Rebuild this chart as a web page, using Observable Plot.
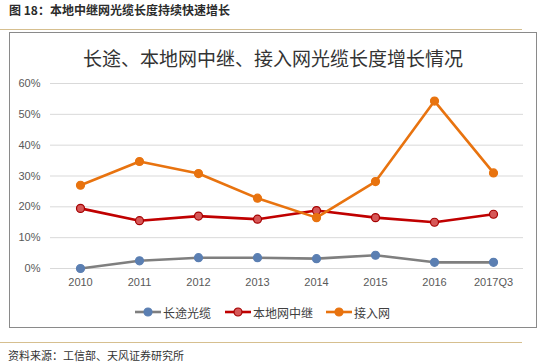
<!DOCTYPE html>
<html><head><meta charset="utf-8">
<script src="https://cdn.jsdelivr.net/npm/d3@7"></script>
<script src="https://cdn.jsdelivr.net/npm/@observablehq/plot@0.6"></script>
<style>
body{margin:0;width:550px;height:364px;position:relative;background:#fff;overflow:hidden;font-family:"Noto Sans CJK SC","Noto Sans",sans-serif;}
#hdr{position:absolute;left:9px;top:1px;font-size:12px;font-weight:bold;color:#2b2b2b;}
.tan{position:absolute;left:0;width:522px;height:1px;background:#d6bf8f;}
#box{position:absolute;left:9px;top:32px;width:528px;height:296px;border:1px solid #8a8a8a;box-sizing:border-box;}
#title{position:absolute;left:9px;width:528px;top:44px;text-align:center;font-size:19px;color:#333;}
#chart{position:absolute;left:0;top:70px;}
#legend{position:absolute;top:303px;left:0;width:550px;height:18px;font-size:12px;color:#404040;}
.li{position:absolute;top:0;display:flex;align-items:center;height:18px;}
#src{position:absolute;left:8px;top:347px;font-size:11px;color:#333;}
</style></head>
<body>
<div id="hdr">图 18：本地中继网光缆长度持续快速增长</div>
<div class="tan" style="top:29px"></div>
<div id="box"></div>
<div id="title">长途、本地网中继、接入网光缆长度增长情况</div>
<div id="chart"></div>
<div id="legend"></div>
<div class="tan" style="top:342px"></div>
<div id="src">资料来源：工信部、天风证券研究所</div>
<script>
const years = ["2010","2011","2012","2013","2014","2015","2016","2017Q3"];
const longHaul = [0.000, 0.025, 0.035, 0.035, 0.032, 0.043, 0.020, 0.020];
const localRelay = [0.195, 0.155, 0.170, 0.160, 0.188, 0.165, 0.150, 0.176];
const access = [0.270, 0.347, 0.308, 0.228, 0.165, 0.282, 0.543, 0.310];
const seriesNames = ["长途光缆","本地网中继","接入网"];
const yTicks = [0,0.1,0.2,0.3,0.4,0.5,0.6];

const lineColors = ["#7f7f7f","#c00000","#e8730f"];
const dotFill = ["#5b7fb2","#d65858","#e8730f"];
const dotStroke = ["#5b7fb2","#a50000","#e8730f"];

const rows = [];
[longHaul, localRelay, access].forEach((arr, si) => {
  arr.forEach((v, i) => rows.push({series: seriesNames[si], si, year: years[i], value: v}));
});

const marks = [
  Plot.gridY(yTicks, {stroke: "#d9d9d9", strokeOpacity: 1, strokeWidth: 1})
];
seriesNames.forEach((s, si) => {
  const d = rows.filter(r => r.si === si);
  marks.push(Plot.line(d, {x: "year", y: "value", stroke: lineColors[si], strokeWidth: 2.6}));
  marks.push(Plot.dot(d, {x: "year", y: "value", r: 4, fill: dotFill[si], stroke: dotStroke[si], strokeWidth: 1.2}));
});
marks.push(Plot.axisY(yTicks, {tickSize: 0, tickPadding: 10, tickFormat: d => Math.round(d*100) + "%", fontSize: 11, fill: "#595959"}));
marks.push(Plot.axisX({tickSize: 0, tickPadding: 10, fontSize: 11, fill: "#595959"}));

const plot = Plot.plot({
  width: 550, height: 230,
  marginLeft: 50, marginRight: 27, marginTop: 13, marginBottom: 32,
  style: {fontFamily: "'Liberation Sans', Arial, sans-serif", background: "transparent"},
  x: {type: "point", domain: years, padding: 0.5, label: null},
  y: {domain: [0, 0.6], label: null},
  marks
});
document.getElementById("chart").appendChild(plot);

// legend
const legend = document.getElementById("legend");
const pos = [135, 225, 326];
seriesNames.forEach((s, si) => {
  const el = document.createElement("div");
  el.className = "li";
  el.style.left = pos[si] + "px";
  el.innerHTML = `<svg width="27" height="18"><line x1="0" x2="26" y1="9" y2="9" stroke="${lineColors[si]}" stroke-width="2.6"/><circle cx="13" cy="9" r="4" fill="${dotFill[si]}" stroke="${dotStroke[si]}" stroke-width="1.2"/></svg><span style="margin-left:1px">${s}</span>`;
  legend.appendChild(el);
});
</script>
</body></html>
